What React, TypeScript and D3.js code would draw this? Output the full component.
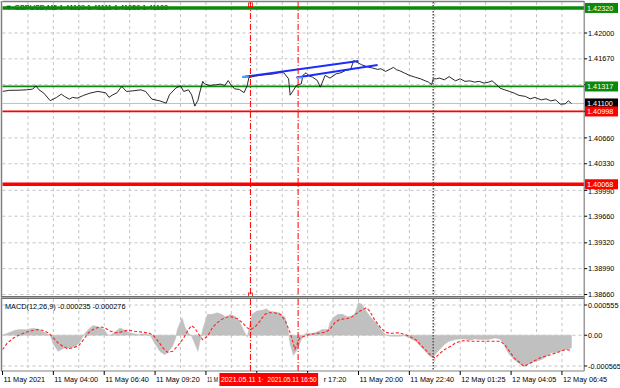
import React from 'react';
import * as d3 from 'd3';

const W = 620;
const H = 388;

// ---- price (close) samples: bar index, price ----
const priceBars = [0, 4, 11, 15, 19, 21, 23, 26, 30, 34, 37, 39, 42, 44, 47, 51, 55, 60, 65, 67, 69, 72, 75, 78, 82, 87, 90, 94, 99, 103, 105, 109, 112, 114, 117, 119, 121, 123, 124, 126, 127, 130, 134, 137, 140, 142, 144, 146, 149, 152, 154, 155, 159, 162, 165, 168, 171, 174, 177, 180, 181, 183, 185, 188, 189, 191, 193, 195, 198, 200, 203, 206, 210, 213, 216, 219, 221, 224, 226, 230, 233, 236, 238, 241, 244, 246, 248, 250, 253, 256, 260, 263, 266, 268, 270, 271, 273, 275, 278, 281, 285, 288, 291, 294, 297, 300, 303, 306, 308, 311, 313, 316, 319, 322, 325, 329, 332, 335, 339, 342, 345, 348, 351, 354, 356, 358];
const priceClose = [1.41254, 1.41267, 1.4127, 1.41274, 1.41283, 1.41325, 1.41274, 1.41232, 1.41136, 1.41177, 1.41219, 1.4119, 1.41155, 1.41177, 1.41168, 1.41203, 1.41232, 1.41254, 1.41236, 1.41177, 1.41206, 1.41236, 1.41318, 1.41254, 1.41261, 1.41274, 1.41254, 1.41155, 1.41133, 1.41104, 1.4121, 1.41296, 1.41325, 1.41254, 1.41274, 1.4121, 1.41066, 1.41142, 1.41232, 1.41382, 1.41351, 1.41331, 1.41338, 1.41347, 1.41331, 1.41392, 1.41331, 1.41287, 1.41279, 1.41238, 1.41331, 1.4143, 1.4145, 1.41459, 1.41466, 1.41471, 1.41479, 1.41492, 1.41492, 1.41415, 1.41206, 1.41267, 1.41331, 1.41351, 1.41459, 1.41492, 1.4145, 1.41437, 1.41395, 1.41309, 1.41459, 1.41424, 1.41479, 1.41492, 1.41523, 1.41535, 1.41648, 1.41616, 1.41594, 1.41565, 1.41552, 1.41535, 1.41543, 1.4151, 1.41539, 1.41561, 1.4153, 1.41517, 1.41488, 1.41459, 1.41433, 1.41415, 1.41389, 1.41373, 1.41341, 1.41415, 1.41415, 1.41424, 1.41402, 1.41443, 1.41389, 1.41415, 1.41382, 1.41389, 1.41373, 1.41382, 1.4136, 1.41373, 1.41389, 1.41338, 1.41296, 1.41274, 1.41254, 1.41232, 1.41203, 1.4119, 1.41159, 1.41177, 1.41146, 1.41159, 1.41133, 1.41146, 1.41091, 1.41095, 1.41133, 1.411];

// ---- MACD main (histogram) ----
const macdBars = [0, 3, 8, 11, 15, 19, 23, 26, 30, 32, 35, 39, 43, 46, 49, 51, 54, 57, 60, 64, 66, 68, 70, 74, 76, 79, 82, 85, 90, 93, 95, 97, 99, 102, 104, 107, 109, 110, 113, 115, 117, 119, 123, 124, 126, 129, 132, 135, 138, 141, 143, 146, 149, 152, 154, 155, 157, 160, 164, 166, 168, 171, 174, 178, 180, 181, 183, 186, 188, 190, 191, 195, 199, 201, 205, 206, 208, 211, 214, 217, 220, 222, 224, 226, 228, 231, 235, 238, 241, 244, 247, 250, 253, 256, 260, 263, 266, 269, 271, 272, 275, 278, 281, 285, 288, 291, 294, 297, 300, 303, 306, 310, 313, 315, 317, 319, 322, 325, 328, 332, 335, 339, 342, 345, 348, 351, 354, 358];
const macdMain = [0, 0.000037, 0.000093, 0.000106, 0.000102, 0.00013, 0.000106, 0.000056, 0, -0.000167, -0.000296, -0.000235, -0.000235, -0.000204, -0.000111, 0, 0.000106, 0.00018, 0.000154, 0.000106, 0.000013, 0, 0.000043, 0.000135, 0.000106, 0.000056, 0.000031, 0.000013, 0.000031, 0, -0.000111, -0.000204, -0.000296, -0.000357, -0.000315, -0.000204, -0.00005, 0.000106, 0.00032, 0.000135, 0.000043, -0.000019, -0.000296, -0.000143, 0.000106, 0.000383, 0.000383, 0.000413, 0.000383, 0.00032, 0.000383, 0.000352, 0.000259, 0.000074, -0.000037, 0.000106, 0.000383, 0.000444, 0.000463, 0.000487, 0.000444, 0.000426, 0.000413, 0.00032, 0.000043, -0.000167, -0.00037, -0.000241, -0.00008, 0, 0.000043, 0.000031, 0.000074, 0.000106, 0.000106, 0.000228, 0.00032, 0.000383, 0.000383, 0.000339, 0.000352, 0.000413, 0.000598, 0.000569, 0.000476, 0.000352, 0.000228, 0.000106, 0.000013, -0.000019, -0.000019, -0.000019, -0.000009, -0.00005, -0.000111, -0.000204, -0.000296, -0.000389, -0.00042, -0.000357, -0.000265, -0.000172, -0.000111, -0.00008, -0.000069, -0.000069, -0.000093, -0.000069, -0.00008, -0.00008, -0.00008, -0.00005, -0.000069, -0.000143, -0.000265, -0.000357, -0.00045, -0.000519, -0.000574, -0.000513, -0.000482, -0.00045, -0.000389, -0.000328, -0.000315, -0.000296, -0.000265, -0.000235];

// ---- MACD signal ----
const signalBars = [0, 3, 7, 11, 15, 19, 22, 25, 29, 32, 35, 38, 41, 44, 48, 51, 54, 57, 61, 64, 68, 71, 74, 79, 83, 88, 92, 95, 98, 101, 104, 107, 110, 114, 117, 119, 121, 124, 126, 129, 132, 135, 138, 141, 144, 148, 151, 154, 156, 159, 162, 165, 168, 171, 175, 178, 181, 184, 187, 190, 193, 197, 200, 203, 206, 209, 212, 216, 219, 222, 225, 229, 231, 234, 238, 241, 244, 247, 250, 253, 256, 260, 263, 266, 269, 272, 275, 278, 282, 285, 288, 291, 294, 300, 307, 313, 316, 319, 322, 326, 328, 332, 335, 338, 341, 345, 348, 351, 354, 358];
const macdSignal = [-0.000265, -0.000143, -0.00005, 0.000013, 0.000056, 0.000087, 0.000106, 0.000093, 0.000043, -0.00005, -0.000143, -0.000204, -0.000246, -0.000235, -0.000191, -0.00008, 0.000043, 0.000106, 0.000154, 0.000139, 0.000074, 0.000046, 0.000056, 0.000093, 0.000074, 0.000056, 0.000043, -0.000006, -0.000111, -0.000235, -0.000315, -0.000296, -0.000204, -0.00005, 0.000106, 0.000176, 0.00013, -0.000006, -0.000083, -0.000019, 0.000135, 0.000228, 0.000291, 0.000333, 0.000339, 0.000302, 0.000228, 0.000135, 0.000106, 0.000154, 0.000259, 0.000383, 0.000413, 0.000413, 0.000383, 0.000259, 0.000043, -0.000259, -0.00005, -0.000019, 0.000013, 0.000031, 0.000043, 0.000056, 0.000106, 0.000228, 0.000291, 0.000302, 0.00032, 0.000383, 0.000444, 0.000506, 0.000444, 0.000291, 0.000135, 0.000056, 0.000031, 0.000043, 0.000043, 0.000013, -0.000019, -0.00008, -0.000172, -0.000265, -0.000357, -0.000417, -0.000339, -0.000265, -0.000204, -0.000143, -0.000111, -0.000098, -0.000111, -0.000111, -0.000111, -0.000111, -0.000172, -0.000296, -0.00042, -0.000513, -0.000574, -0.000513, -0.000463, -0.00042, -0.000389, -0.000357, -0.000328, -0.000296, -0.000265, -0.000276];

// ---- axes ----
const priceTickValues = [1.42, 1.4167, 1.4134, 1.41, 1.4066, 1.4033, 1.3999, 1.3966, 1.3932, 1.3899, 1.3866];
// labels hidden behind level boxes in the reference are left blank
const priceTickLabels = ['1.42000', '1.41670', '', '', '1.40660', '1.40330', '1.39990', '1.39660', '1.39320', '1.38990', '1.38660'];
const macdTickValues = [0.000555, 0, -0.000565];
const macdTickLabels = ['0.000555', '0.00', '-0.000565'];
const timeTickBars = [0, 32, 64, 96, 128, 160, 192, 224, 256, 288, 320, 352];
const timeTickLabels = ['11 May 2021', '11 May 04:00', '11 May 06:40', '11 May 09:20', '11 M', '', 'r 17:20', '11 May 20:00', '11 May 22:40', '12 May 01:25', '12 May 04:05', '12 May 06:45'];

// ---- levels, objects ----
const greenLevels = [1.4232, 1.41317];
const greenLevelLabels = ['1.42320', '1.41317'];
const redLevels = [1.40998, 1.40068];
const redLevelLabels = ['1.40998', '1.40068'];
const bidPrice = 1.411;
const bidLabel = '1.41100';
const markerBars = [156, 186];
const markerLabels = ['2021.05.11 1\u00B7', '2021.05.11 16:50'];
const separatorBar = 271;
const trendStartBars = [151, 185];
const trendStartPrices = [1.41438, 1.41432];
const trendEndBars = [224, 236];
const trendEndPrices = [1.41642, 1.41591];
const titleText = '\u25BC GBPUSD,M5  1.41109 1.41111 1.41050 1.41100';
const macdTitle = 'MACD(12,26,9) -0.000235 -0.000276';

const FONT = '"Liberation Sans", Arial, sans-serif';
const FS = 7.3;

export default function App() {
  const left = 2.5;
  const right = 584.2;
  const mainTop = 2;
  const mainBottom = 296;
  const macdTop = 299;
  const macdBottom = 371;

  const x = d3.scaleLinear().domain([0, 366]).range([left, right]);
  const y = d3.scaleLinear().domain([1.3866, 1.42]).range([294.5, 33]);
  const my = d3.scaleLinear().domain([-0.000565, 0.000555]).range([366, 305]);

  const priceData = priceBars.map((b, i) => [b, priceClose[i]] as [number, number]);
  const priceLine = d3.line<[number, number]>().x(d => x(d[0])).y(d => y(d[1]))(priceData) || '';

  const macdData = macdBars.map((b, i) => [b, macdMain[i]] as [number, number]);
  const macdArea = d3.area<[number, number]>().x(d => x(d[0])).y0(my(0)).y1(d => my(d[1]))(macdData) || '';
  const sigData = signalBars.map((b, i) => [b, macdSignal[i]] as [number, number]);
  const sigLine = d3.line<[number, number]>().x(d => x(d[0])).y(d => my(d[1]))(sigData) || '';

  const gridBars = d3.range(16, 366, 16);
  const gridColor = '#c4c4c4';

  const box = (cy: number, label: string, fill: string, key: string) => (
    <g key={key}>
      <rect x={585} y={cy - 5} width={33} height={10} fill={fill} />
      <text x={587} y={cy + 2.6} fontSize={FS} fill="#fff" fontFamily={FONT}>{label}</text>
    </g>
  );

  // time-axis label offsets: the partially covered labels are shown from their visible part
  const timeLabelX = (b: number, i: number) => (timeTickLabels[i].startsWith('r ') ? x(b) + 16 : x(b) + 1);

  return (
    <svg width={W} height={H} style={{ position: 'absolute', left: 0, top: 0, background: '#fff' }}>
      <defs>
        <clipPath id="mainClip"><rect x={left} y={mainTop} width={right - left} height={mainBottom - mainTop} /></clipPath>
        <clipPath id="macdClip"><rect x={left} y={macdTop} width={right - left} height={macdBottom - macdTop} /></clipPath>
      </defs>
      <rect x={0} y={0} width={W} height={H} fill="#fff" />

      {/* grid main */}
      {priceTickValues.map((v, i) => (
        <line key={'hg' + i} x1={left} x2={right} y1={y(v)} y2={y(v)} stroke={gridColor} strokeDasharray="3,3" strokeWidth={1} />
      ))}
      {gridBars.map(b => (
        <line key={'vg' + b} x1={x(b)} x2={x(b)} y1={mainTop} y2={mainBottom} stroke={gridColor} strokeDasharray="3,3" strokeWidth={1} />
      ))}
      {/* grid macd */}
      {macdTickValues.map((v, i) => (
        <line key={'mhg' + i} x1={left} x2={right} y1={my(v)} y2={my(v)} stroke={gridColor} strokeDasharray="3,3" strokeWidth={1} />
      ))}
      {gridBars.map(b => (
        <line key={'mvg' + b} x1={x(b)} x2={x(b)} y1={macdTop} y2={macdBottom} stroke={gridColor} strokeDasharray="3,3" strokeWidth={1} />
      ))}

      {/* title */}
      <text x={5} y={9.5} fontSize={FS} fontFamily={FONT} fill="#000">{titleText}</text>

      {/* bid line */}
      <line x1={left} x2={right} y1={y(bidPrice)} y2={y(bidPrice)} stroke="#c0c0c0" strokeWidth={1} />

      {/* levels */}
      {greenLevels.map((v, i) => (
        <line key={'gl' + i} x1={left} x2={right} y1={y(v)} y2={y(v)} stroke="#0a8a0a" strokeWidth={i === 0 ? 3.5 : 1.8} />
      ))}
      {redLevels.map((v, i) => (
        <line key={'rl' + i} x1={left} x2={right} y1={y(v)} y2={y(v)} stroke="#ff0000" strokeWidth={i === 0 ? 1.8 : 3.5} />
      ))}

      {/* price line */}
      <g clipPath="url(#mainClip)">
        <path d={priceLine} fill="none" stroke="#111" strokeWidth={0.9} strokeLinejoin="round" />
        {trendStartBars.map((b, i) => (
          <g key={'tr' + i}>
            <line x1={x(b)} y1={y(trendStartPrices[i])} x2={x(trendEndBars[i])} y2={y(trendEndPrices[i])} stroke="#1a2cff" strokeWidth={2} />
            <line x1={x(b)} y1={y(trendStartPrices[i])} x2={x(b + 4)} y2={y(trendStartPrices[i])} stroke="#49a0ff" strokeWidth={2} />
          </g>
        ))}
      </g>

      {/* MACD */}
      <g clipPath="url(#macdClip)">
        <path d={macdArea} fill="#c0c0c0" stroke="#c0c0c0" strokeWidth={0.5} />
        <path d={sigLine} fill="none" stroke="#ff2020" strokeWidth={1.1} strokeDasharray="3,2" />
      </g>
      <text x={5} y={309} fontSize={FS} fontFamily={FONT} fill="#000">{macdTitle}</text>

      {/* day separator */}
      <line x1={x(separatorBar)} x2={x(separatorBar)} y1={mainTop} y2={macdBottom} stroke="#555" strokeWidth={1.5} strokeDasharray="1.5,1.5" />

      {/* vertical red markers */}
      {markerBars.map((b, i) => (
        <line key={'vm' + i} x1={x(b)} x2={x(b)} y1={mainTop} y2={macdBottom} stroke="#ff0000" strokeWidth={1} strokeDasharray="6,2,1,2" />
      ))}
      <rect x={x(markerBars[0]) - 2} y={mainTop + 1} width={4} height={4} fill="none" stroke="#ff0000" strokeWidth={0.8} />
      <rect x={x(markerBars[0]) - 2} y={mainBottom - 3} width={4} height={4} fill="none" stroke="#ff0000" strokeWidth={0.8} />

      {/* frames */}
      <line x1={left} x2={right} y1={1.5} y2={1.5} stroke="#808080" strokeWidth={1.5} />
      <line x1={1.5} x2={1.5} y1={1} y2={macdBottom} stroke="#808080" strokeWidth={1.5} />
      <rect x={1} y={mainBottom} width={right - 1} height={3} fill="#a8a8a8" />
      <line x1={1} x2={right} y1={mainBottom + 0.5} y2={mainBottom + 0.5} stroke="#707070" strokeWidth={1} />
      <line x1={1} x2={right} y1={mainBottom + 2.5} y2={mainBottom + 2.5} stroke="#707070" strokeWidth={1} />
      <line x1={1} x2={right} y1={macdBottom} y2={macdBottom} stroke="#808080" strokeWidth={1.2} />
      <line x1={right} x2={right} y1={1} y2={macdBottom} stroke="#808080" strokeWidth={1.2} />

      {/* price axis */}
      {priceTickValues.map((v, i) => (
        <g key={'pt' + i}>
          <line x1={right} x2={right + 3} y1={y(v)} y2={y(v)} stroke="#000" strokeWidth={1} />
          {priceTickLabels[i] && (
            <text x={588} y={y(v) + (i === 6 ? 3.2 : 2.6)} fontSize={FS} fontFamily={FONT} fill="#000">{priceTickLabels[i]}</text>
          )}
        </g>
      ))}
      {macdTickValues.map((v, i) => (
        <g key={'mt' + i}>
          <line x1={right} x2={right + 3} y1={my(v)} y2={my(v)} stroke="#000" strokeWidth={1} />
          <text x={588} y={my(v) + 2.6} fontSize={FS} fontFamily={FONT} fill="#000">{macdTickLabels[i]}</text>
        </g>
      ))}

      {/* level labels */}
      {greenLevels.map((v, i) => box(y(v), greenLevelLabels[i], '#0a8a0a', 'gb' + i))}
      {box(y(bidPrice), bidLabel, '#000', 'bid')}
      {redLevels.map((v, i) => box(y(v), redLevelLabels[i], '#ff0000', 'rb' + i))}

      {/* time axis */}
      {timeTickBars.map((b, i) => (
        <g key={'tt' + i}>
          <line x1={x(b)} x2={x(b)} y1={macdBottom} y2={macdBottom + 4} stroke="#000" strokeWidth={1} />
          {timeTickLabels[i] && (
            <text x={timeLabelX(b, i)} y={382} fontSize={FS} fontFamily={FONT} fill="#000"
              textLength={timeTickLabels[i] === '11 M' ? 11 : undefined} lengthAdjust="spacingAndGlyphs">{timeTickLabels[i]}</text>
          )}
        </g>
      ))}
      {markerBars.map((b, i) => (
        <g key={'ml' + i}>
          <rect x={x(b) - (i === 0 ? 31 : 32)} y={373} width={i === 0 ? 49 : 52} height={13} fill="#ff0000" />
          <text x={x(b) - (i === 0 ? 29.5 : 30.5)} y={382} fontSize={FS} fontFamily={FONT} fill="#fff" textLength={i === 0 ? 43 : 49} lengthAdjust="spacingAndGlyphs">{markerLabels[i]}</text>
        </g>
      ))}
    </svg>
  );
}
